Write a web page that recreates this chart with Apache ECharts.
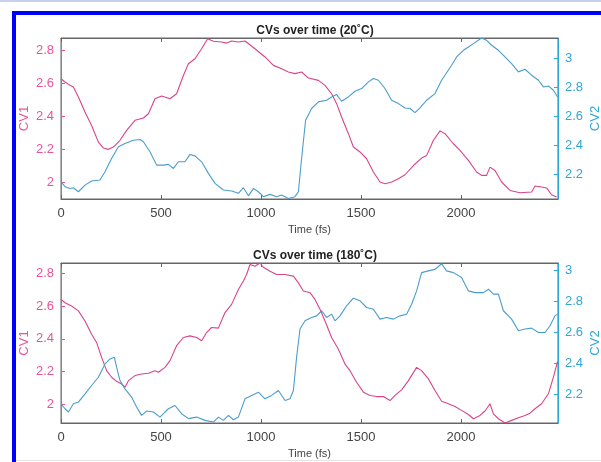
<!DOCTYPE html>
<html>
<head>
<meta charset="utf-8">
<script src="https://cdn.jsdelivr.net/npm/echarts@6/dist/echarts.min.js"></script>
<style>
html,body{margin:0;padding:0;background:#fff;}
#chart{width:601px;height:462px;}
</style>
</head>
<body>
<div id="chart"></div>
<script>
// ---- Data (time in fs, value) ----
var titles = ['CVs over time (20˚C)', 'CVs over time (180˚C)'];
var xTicks = [0, 500, 1000, 1500, 2000];
var cv1Ticks = [2, 2.2, 2.4, 2.6, 2.8];
var cv2Ticks = [2.2, 2.4, 2.6, 2.8, 3];

var cv1_20C = [[0,2.626],[20,2.606],[45,2.586],[62,2.576],[87,2.515],[120,2.424],[153,2.343],[187,2.242],[212,2.206],[237,2.198],[262,2.212],[295,2.253],[328,2.313],[370,2.374],[412,2.388],[437,2.414],[470,2.505],[503,2.521],[545,2.505],[578,2.535],[612,2.646],[637,2.717],[670,2.747],[703,2.808],[733,2.869],[762,2.853],[803,2.849],[828,2.842],[853,2.855],[887,2.849],[920,2.855],[970,2.808],[1020,2.758],[1062,2.707],[1103,2.687],[1137,2.667],[1170,2.657],[1203,2.667],[1237,2.630],[1287,2.616],[1320,2.586],[1353,2.535],[1378,2.475],[1403,2.394],[1437,2.293],[1462,2.212],[1495,2.182],[1528,2.141],[1562,2.061],[1595,2.0],[1620,1.99],[1653,2.0],[1687,2.02],[1720,2.044],[1762,2.10],[1803,2.145],[1828,2.16],[1862,2.253],[1895,2.31],[1920,2.293],[1962,2.232],[1995,2.192],[2037,2.131],[2078,2.061],[2103,2.04],[2128,2.04],[2145,2.09],[2170,2.07],[2203,2.0],[2245,1.949],[2295,1.935],[2353,1.939],[2370,1.976],[2403,1.97],[2428,1.964],[2453,1.923],[2478,1.909]];

var cv2_20C = [[0,2.147],[20,2.113],[45,2.101],[62,2.106],[87,2.078],[120,2.124],[153,2.152],[195,2.159],[220,2.216],[253,2.308],[287,2.389],[320,2.411],[362,2.434],[395,2.439],[412,2.423],[445,2.354],[478,2.262],[512,2.262],[537,2.267],[562,2.239],[587,2.285],[620,2.285],[645,2.336],[670,2.326],[703,2.285],[737,2.205],[770,2.136],[812,2.09],[853,2.083],[887,2.067],[912,2.106],[937,2.05],[962,2.10],[987,2.078],[1012,2.044],[1045,2.06],[1078,2.044],[1103,2.055],[1137,2.032],[1170,2.044],[1187,2.078],[1203,2.308],[1223,2.572],[1253,2.653],[1287,2.699],[1328,2.71],[1353,2.733],[1378,2.749],[1403,2.703],[1437,2.733],[1470,2.772],[1503,2.791],[1537,2.837],[1562,2.86],[1587,2.848],[1620,2.791],[1653,2.71],[1687,2.687],[1720,2.657],[1745,2.653],[1770,2.625],[1795,2.657],[1828,2.71],[1870,2.756],[1903,2.848],[1953,2.952],[1978,3.009],[2012,3.055],[2037,3.078],[2062,3.101],[2103,3.14],[2128,3.124],[2153,3.09],[2187,3.055],[2220,3.009],[2253,2.963],[2287,2.906],[2320,2.924],[2353,2.883],[2387,2.848],[2412,2.802],[2437,2.809],[2462,2.779],[2483,2.733]];

var cv1_180C = [[0,2.640],[20,2.620],[53,2.600],[87,2.570],[120,2.509],[153,2.428],[178,2.378],[203,2.287],[228,2.206],[253,2.166],[278,2.141],[303,2.125],[320,2.105],[337,2.145],[370,2.176],[403,2.186],[437,2.190],[470,2.206],[487,2.196],[520,2.226],[545,2.267],[578,2.358],[612,2.408],[645,2.418],[678,2.408],[703,2.388],[728,2.438],[753,2.469],[787,2.465],[820,2.560],[853,2.610],[887,2.701],[912,2.752],[928,2.792],[945,2.853],[970,2.842],[995,2.862],[1012,2.836],[1045,2.812],[1078,2.792],[1120,2.792],[1162,2.782],[1187,2.741],[1212,2.691],[1245,2.681],[1270,2.640],[1295,2.580],[1320,2.509],[1353,2.408],[1387,2.337],[1420,2.246],[1445,2.206],[1478,2.135],[1512,2.075],[1545,2.055],[1578,2.048],[1612,2.048],[1645,2.024],[1670,2.055],[1703,2.089],[1737,2.145],[1778,2.226],[1803,2.206],[1837,2.156],[1870,2.085],[1903,2.020],[1937,2.004],[1970,1.988],[2003,1.964],[2037,1.939],[2062,1.913],[2095,1.933],[2120,1.960],[2145,2.004],[2162,1.943],[2187,1.913],[2220,1.887],[2253,1.903],[2287,1.919],[2320,1.933],[2345,1.947],[2370,1.974],[2403,2.004],[2437,2.065],[2462,2.166],[2483,2.263]];

var cv2_180C = [[0,2.137],[20,2.105],[37,2.084],[62,2.137],[87,2.148],[120,2.201],[153,2.255],[187,2.308],[220,2.394],[245,2.426],[267,2.437],[278,2.373],[295,2.287],[320,2.233],[353,2.180],[378,2.116],[403,2.062],[428,2.090],[462,2.084],[495,2.051],[512,2.073],[537,2.105],[570,2.126],[603,2.073],[637,2.041],[678,2.051],[720,2.030],[762,2.019],[787,2.051],[812,2.030],[837,2.062],[862,2.034],[887,2.051],[920,2.169],[953,2.191],[987,2.212],[1020,2.169],[1053,2.191],[1087,2.223],[1120,2.158],[1145,2.169],[1162,2.223],[1178,2.437],[1195,2.619],[1220,2.672],[1253,2.694],[1278,2.704],[1303,2.737],[1328,2.694],[1353,2.715],[1370,2.672],[1395,2.704],[1428,2.769],[1462,2.818],[1495,2.801],[1528,2.758],[1562,2.747],[1595,2.683],[1628,2.694],[1662,2.683],[1695,2.704],[1728,2.715],[1753,2.779],[1778,2.865],[1803,2.983],[1837,2.994],[1870,3.004],[1903,3.04],[1928,2.994],[1962,2.983],[2003,2.951],[2037,2.865],[2070,2.854],[2112,2.854],[2137,2.876],[2162,2.844],[2187,2.844],[2212,2.737],[2253,2.683],[2287,2.608],[2320,2.619],[2353,2.625],[2387,2.597],[2420,2.597],[2445,2.640],[2470,2.704],[2483,2.715]];

// ---- Styling ----
var PINK_LINE = '#d9448a', PINK_AX = '#e8549a';
var BLUE_LINE = '#4a9dcc', BLUE_AX = '#2fa6d8';
var GRAY = '#666';
var FONT = 'Liberation Sans';
var xMax = 2485;
var ranges = [
  {cv1: [1.897, 2.873], cv2: [2.028, 3.14]},
  {cv1: [1.887, 2.862], cv2: [2.013, 3.045]}
];
var grids = [
  {left: 61, right: 43, top: 38, height: 161},
  {left: 61, right: 43, top: 263, height: 160}
];

var xAxes = [], yAxes = [], titleArr = [];
grids.forEach(function (g, i) {
  g.show = true; g.borderColor = GRAY; g.borderWidth = 1; g.backgroundColor = '#fff';
  g.containLabel = false; g.outerBoundsMode = 'none';
  xAxes.push({
    type: 'value', gridIndex: i, min: 0, max: xMax, position: 'bottom',
    name: 'Time (fs)', nameLocation: 'middle', nameGap: 25, nameMoveOverlap: false,
    nameTextStyle: {color: '#444', fontSize: 11, fontFamily: FONT},
    axisLine: {show: true, onZero: false, lineStyle: {color: GRAY}},
    axisTick: {show: true, inside: true, length: 4, customValues: xTicks, lineStyle: {color: GRAY}},
    axisLabel: {color: '#444', fontSize: 13, fontFamily: FONT, margin: 8, customValues: xTicks,
      formatter: function (v) { return String(Math.round(v)); }},
    splitLine: {show: false}
  });
  xAxes.push({
    type: 'value', gridIndex: i, min: 0, max: xMax, position: 'top',
    axisLine: {show: true, onZero: false, lineStyle: {color: GRAY}},
    axisTick: {show: true, inside: true, length: 4, customValues: xTicks, lineStyle: {color: GRAY}},
    axisLabel: {show: false},
    splitLine: {show: false}
  });
  yAxes.push({
    type: 'value', gridIndex: i, position: 'left', min: ranges[i].cv1[0], max: ranges[i].cv1[1],
    name: 'CV1', nameLocation: 'middle', nameRotate: 90, nameGap: 30, nameMoveOverlap: false,
    nameTextStyle: {color: PINK_AX, fontSize: 13, fontFamily: FONT},
    axisLine: {show: true, onZero: false, lineStyle: {color: PINK_AX}},
    axisTick: {show: true, inside: true, length: 4, customValues: cv1Ticks, lineStyle: {color: PINK_AX}},
    axisLabel: {color: PINK_AX, fontSize: 13, fontFamily: FONT, margin: 7, customValues: cv1Ticks,
      formatter: function (v) { return String(+v.toFixed(1)); }},
    splitLine: {show: false}
  });
  yAxes.push({
    type: 'value', gridIndex: i, position: 'right', min: ranges[i].cv2[0], max: ranges[i].cv2[1],
    name: 'CV2', nameLocation: 'middle', nameRotate: 90, nameGap: 31, nameMoveOverlap: false,
    nameTextStyle: {color: BLUE_AX, fontSize: 13, fontFamily: FONT},
    axisLine: {show: true, onZero: false, lineStyle: {color: BLUE_AX}},
    axisTick: {show: true, inside: true, length: 4, customValues: cv2Ticks, lineStyle: {color: BLUE_AX}},
    axisLabel: {color: BLUE_AX, fontSize: 13, fontFamily: FONT, margin: 7, customValues: cv2Ticks,
      formatter: function (v) { return String(+v.toFixed(1)); }},
    splitLine: {show: false}
  });
  titleArr.push({
    text: titles[i], left: 310, textAlign: 'center', top: g.top - 18,
    textStyle: {color: '#222', fontSize: 12, fontWeight: 'bold', fontFamily: FONT}
  });
});

function line(data, xi, yi, color) {
  return {type: 'line', data: data, xAxisIndex: xi, yAxisIndex: yi, showSymbol: false,
    symbol: 'none', animation: false, lineStyle: {color: color, width: 1.1}, itemStyle: {color: color}};
}

var chart = echarts.init(document.getElementById('chart'), null, {renderer: 'canvas'});
chart.setOption({
  animation: false,
  backgroundColor: '#fff',
  title: titleArr,
  grid: grids,
  xAxis: xAxes,
  yAxis: yAxes,
  series: [
    line(cv1_20C, 0, 0, PINK_LINE),
    line(cv2_20C, 0, 1, BLUE_LINE),
    line(cv1_180C, 2, 2, PINK_LINE),
    line(cv2_180C, 2, 3, BLUE_LINE)
  ],
  graphic: [
    {type: 'rect', shape: {x: 0, y: 0, width: 601, height: 2}, style: {fill: '#c8d2ec'}, z: 100},
    {type: 'rect', shape: {x: 12, y: 11, width: 589, height: 4}, style: {fill: '#0000ff'}, z: 100},
    {type: 'rect', shape: {x: 12, y: 11, width: 4, height: 451}, style: {fill: '#0000ff'}, z: 100},
    {type: 'rect', shape: {x: 16, y: 460, width: 585, height: 1}, style: {fill: '#e4e4e4'}, z: 100}
  ]
});
</script>
</body>
</html>
